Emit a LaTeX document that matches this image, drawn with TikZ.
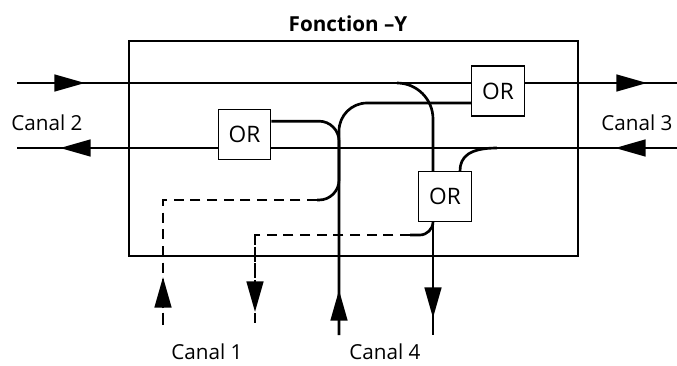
\documentclass[tikz,border=0pt]{standalone}
\usepackage{fontspec}
\setmainfont{Open Sans}
\usepackage{tikz}
\usetikzlibrary{arrows.meta, positioning}

\begin{document}
\begin{tikzpicture}[
    x=0.75pt, y=-0.75pt,
    >={Triangle[length=23pt, width=12.5pt]},
    wire/.style={line width=2pt, black},
    dline/.style={wire, dash pattern=on 7.5pt off 5pt},
    frame/.style={
        rectangle, draw=black, line width=2pt,
        minimum width=336.75pt, minimum height=161.25pt
    },
    orbox/.style={
        rectangle, draw=black, line width=0.8pt, fill=white,
        minimum width=39.5pt, minimum height=37.5pt, inner sep=0pt,
        font=\fontsize{17pt}{19pt}\selectfont
    },
    canal/.style={inner sep=0pt, font=\fontsize{15.5pt}{18pt}\selectfont},
    title/.style={font=\fontsize{15.5pt}{18pt}\selectfont\bfseries},
]
\useasboundingbox (0,0) rectangle (677,365);

% Function block
\node[frame] (fonction) at (353.5,148.5) {};
\node[title] (ftitle) at (348,24) {Fonction –Y};

% Channel ends and arrow tips
\coordinate (c2in) at (17,83);
\coordinate (c2tip) at (85,83);
\coordinate (c3tip) at (647,83);
\coordinate (c3out) at (677,83);
\coordinate (c3in) at (677,148);
\coordinate (c3tipb) at (615,148);
\coordinate (c2tipb) at (60,148);
\coordinate (c2out) at (17,148);
\coordinate (c4in) at (339,335);
\coordinate (c4tip) at (339,290);
\coordinate (c4out) at (433,335);
\coordinate (c4tipb) at (433,318);
\coordinate (c1in) at (163,325);
\coordinate (c1tip) at (163,277);
\coordinate (c1out) at (255,330);
\coordinate (c1tipb) at (255,312);

% Branch and joint points
\coordinate (brA) at (397,83);
\coordinate (brB) at (497,148);
\coordinate (jn1) at (339,200);
\coordinate (dsh1) at (317,200);
\coordinate (dsh2) at (410,235);

% Main lines
\draw[wire] (c2in) -- (c3out);
\draw[wire] (c3in) -- (c2out);

% OR couplers
\node[orbox] (orA) at (498,91) {OR};
\node[orbox] (orB) at (244.5,134.5) {OR};
\node[orbox] (orC) at (445,196.5) {OR};

% Drop towards Canal 4
\draw[wire, rounded corners=27pt] (brA) -| (orC.north -| c4out);
\draw[wire] (brB) .. controls +(-28,0) and +(0,-14) .. ([xshift=11.25pt]orC.north);
\draw[wire] (orC.south -| c4out) -- (c4out);

% Insert from Canal 4
\draw[wire, rounded corners=21pt] (c4in) |- ([yshift=-9pt]orA.west);

% Canal 1 paths (dashed)
\draw[wire, rounded corners=15pt] ([yshift=10pt]orB.east) -| (jn1) -- (dsh1);
\draw[dline] (dsh1) -| (c1in);
\draw[wire, rounded corners=10pt] (orC.south -| c4out) |- (dsh2);
\draw[dline] (dsh2) -| (c1out);

% Arrow heads
\draw[wire, ->] (c2in) -- (c2tip);
\draw[wire, ->] (orA.east |- c2in) -- (c3tip);
\draw[wire, ->] (c3in) -- (c3tipb);
\draw[wire, ->] (orB.west |- c3in) -- (c2tipb);
\draw[wire, ->] (c4in) -- (c4tip);
\draw[wire, ->] (orC.south -| c4out) -- (c4tipb);
\draw[dline, ->] (c1in) -- (c1tip);
\draw[dline, ->] (dsh2 -| c1out) -- (c1tipb);

% Labels
\node[canal] (lc2) at (47,123) {Canal 2};
\node[canal] (lc3) at (637,123) {Canal 3};
\node[canal] (lc1) at (207,352) {Canal 1};
\node[canal] (lc4) at (385,352) {Canal 4};

\end{tikzpicture}
\end{document}
